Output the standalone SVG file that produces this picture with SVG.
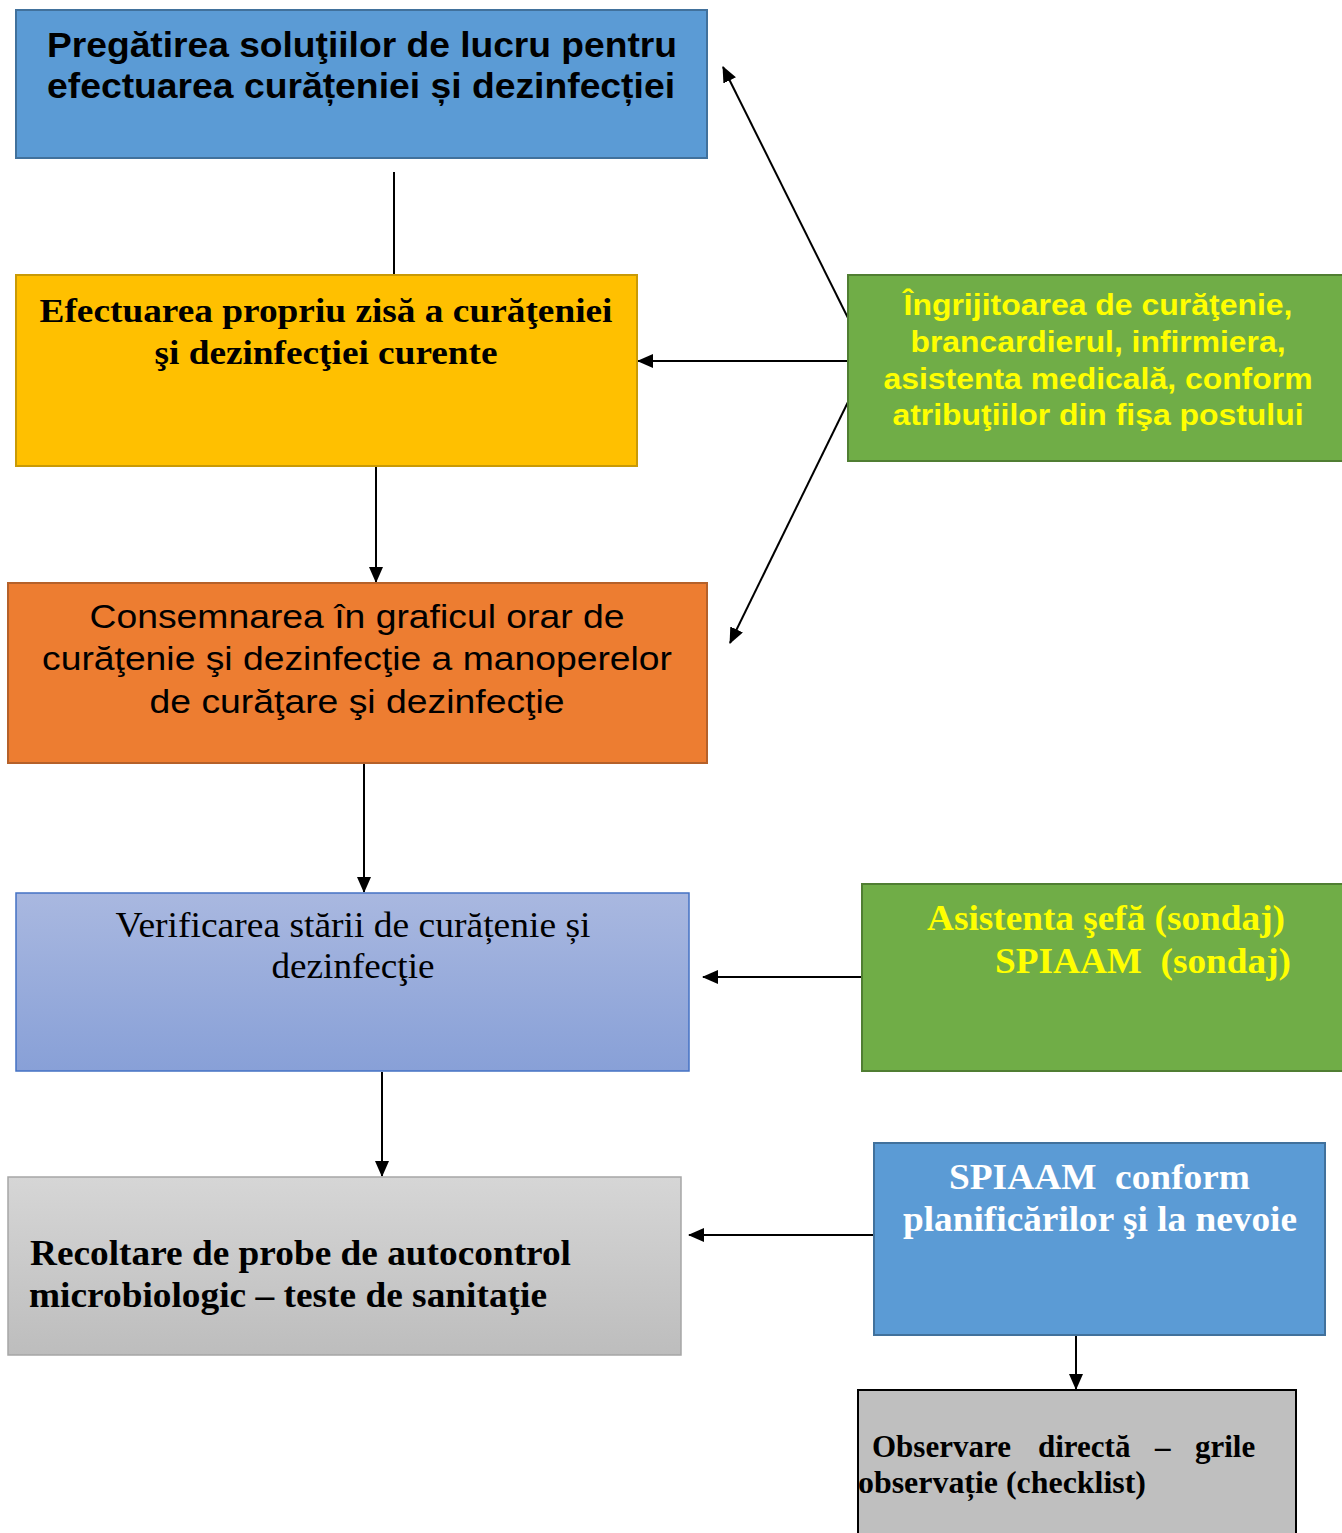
<svg xmlns="http://www.w3.org/2000/svg" width="1342" height="1533" viewBox="0 0 1342 1533">
<style>
.sans{font-family:"Liberation Sans",Arial,sans-serif}
.serif{font-family:"Liberation Serif","Times New Roman",serif}
.b{font-weight:bold}
.c{text-anchor:middle}
.conn{stroke:#000;stroke-width:2;fill:none}
</style>
<defs>
<marker id="ah" markerUnits="userSpaceOnUse" markerWidth="16" markerHeight="14" refX="15" refY="7" orient="auto">
<path d="M0,0 L16,7 L0,14 Z" fill="#000"/>
</marker>
<linearGradient id="gBlue" x1="0" y1="0" x2="0" y2="1">
<stop offset="0" stop-color="#A9B8E0"/><stop offset="1" stop-color="#88A0D7"/>
</linearGradient>
<linearGradient id="gGray" x1="0" y1="0" x2="0" y2="1">
<stop offset="0" stop-color="#D6D6D6"/><stop offset="1" stop-color="#BDBDBD"/>
</linearGradient>
</defs>
<rect width="1342" height="1533" fill="#fff"/>

<g id="connectors">
<line class="conn" x1="394" y1="172" x2="394" y2="274"/>
<line class="conn" x1="376" y1="467" x2="376" y2="582" marker-end="url(#ah)"/>
<line class="conn" x1="364" y1="764" x2="364" y2="892" marker-end="url(#ah)"/>
<line class="conn" x1="382" y1="1072" x2="382" y2="1176" marker-end="url(#ah)"/>
<line class="conn" x1="848" y1="318" x2="723" y2="67" marker-end="url(#ah)"/>
<line class="conn" x1="848" y1="361" x2="638" y2="361" marker-end="url(#ah)"/>
<line class="conn" x1="848" y1="402" x2="730" y2="643" marker-end="url(#ah)"/>
<line class="conn" x1="862" y1="977" x2="703" y2="977" marker-end="url(#ah)"/>
<line class="conn" x1="874" y1="1235" x2="689" y2="1235" marker-end="url(#ah)"/>
<line class="conn" x1="1076" y1="1335" x2="1076" y2="1389" marker-end="url(#ah)"/>
</g>

<g id="n1">
<rect x="16" y="10" width="691" height="148" fill="#5B9BD5" stroke="#41719C" stroke-width="2"/>
<text class="sans b c" font-size="35" x="362" y="57" textLength="630" lengthAdjust="spacingAndGlyphs">Pregătirea soluţiilor de lucru pentru</text>
<text class="sans b c" font-size="35" x="361" y="98" textLength="628" lengthAdjust="spacingAndGlyphs">efectuarea curățeniei și dezinfecției</text>
</g>

<g id="n2">
<rect x="16" y="275" width="621" height="191" fill="#FFC000" stroke="#C99A06" stroke-width="2"/>
<text class="serif b c" font-size="34" x="326" y="322" textLength="573" lengthAdjust="spacingAndGlyphs">Efectuarea propriu zisă a curăţeniei</text>
<text class="serif b c" font-size="34" x="326" y="364" textLength="343" lengthAdjust="spacingAndGlyphs">şi dezinfecţiei curente</text>
</g>

<g id="n3">
<rect x="8" y="583" width="699" height="180" fill="#ED7D31" stroke="#B5612A" stroke-width="2"/>
<text class="sans c" font-size="34" x="357" y="628" textLength="535" lengthAdjust="spacingAndGlyphs">Consemnarea în graficul orar de</text>
<text class="sans c" font-size="34" x="357" y="670" textLength="630" lengthAdjust="spacingAndGlyphs">curăţenie şi dezinfecţie a manoperelor</text>
<text class="sans c" font-size="34" x="357" y="713" textLength="415" lengthAdjust="spacingAndGlyphs">de curăţare şi dezinfecţie</text>
</g>

<g id="n4">
<rect x="16" y="893" width="673" height="178" fill="url(#gBlue)" stroke="#4472C4" stroke-width="1.5"/>
<text class="serif c" font-size="35" x="353" y="937" textLength="475" lengthAdjust="spacingAndGlyphs">Verificarea stării de curățenie și</text>
<text class="serif c" font-size="35" x="353" y="978" textLength="163" lengthAdjust="spacingAndGlyphs">dezinfecţie</text>
</g>

<g id="n5">
<rect x="8" y="1177" width="673" height="178" fill="url(#gGray)" stroke="#A6A6A6" stroke-width="1.5"/>
<text class="serif b" font-size="36" x="30" y="1265" textLength="541" lengthAdjust="spacingAndGlyphs">Recoltare de probe de autocontrol</text>
<text class="serif b" font-size="36" x="29" y="1307" textLength="518" lengthAdjust="spacingAndGlyphs">microbiologic – teste de sanitaţie</text>
</g>

<g id="n6">
<rect x="848" y="275" width="496" height="186" fill="#70AD47" stroke="#507E32" stroke-width="2"/>
<text class="sans b c" font-size="30" fill="#FFFF00" x="1098" y="315" textLength="389" lengthAdjust="spacingAndGlyphs">Îngrijitoarea de curăţenie,</text>
<text class="sans b c" font-size="30" fill="#FFFF00" x="1098" y="352" textLength="375" lengthAdjust="spacingAndGlyphs">brancardierul, infirmiera,</text>
<text class="sans b c" font-size="30" fill="#FFFF00" x="1098" y="389" textLength="429" lengthAdjust="spacingAndGlyphs">asistenta medicală, conform</text>
<text class="sans b c" font-size="30" fill="#FFFF00" x="1098" y="425" textLength="411" lengthAdjust="spacingAndGlyphs">atribuţiilor din fişa postului</text>
</g>

<g id="n7">
<rect x="862" y="884" width="482" height="187" fill="#70AD47" stroke="#507E32" stroke-width="2"/>
<text class="serif b" font-size="35" fill="#FFFF00" x="927" y="930" textLength="358" lengthAdjust="spacingAndGlyphs">Asistenta şefă (sondaj)</text>
<text class="serif b" font-size="35" fill="#FFFF00" x="995" y="973" textLength="296" lengthAdjust="spacingAndGlyphs" xml:space="preserve">SPIAAM  (sondaj)</text>
</g>

<g id="n8">
<rect x="874" y="1143" width="451" height="192" fill="#5B9BD5" stroke="#41719C" stroke-width="2"/>
<text class="serif b" font-size="35" fill="#FFFFFF" x="949" y="1189" textLength="301" lengthAdjust="spacingAndGlyphs" xml:space="preserve">SPIAAM  conform</text>
<text class="serif b" font-size="35" fill="#FFFFFF" x="903" y="1231" textLength="394" lengthAdjust="spacingAndGlyphs">planificărilor şi la nevoie</text>
</g>

<g id="n9">
<rect x="858" y="1390" width="438" height="150" fill="#BFBFBF" stroke="#000" stroke-width="2"/>
<text class="serif b" font-size="31" y="1457"><tspan x="872">Observare</tspan> <tspan x="1038">directă</tspan> <tspan x="1155">–</tspan> <tspan x="1195">grile</tspan></text>
<text class="serif b" font-size="31" x="858" y="1493" textLength="288" lengthAdjust="spacingAndGlyphs">observație (checklist)</text>
</g>
</svg>
